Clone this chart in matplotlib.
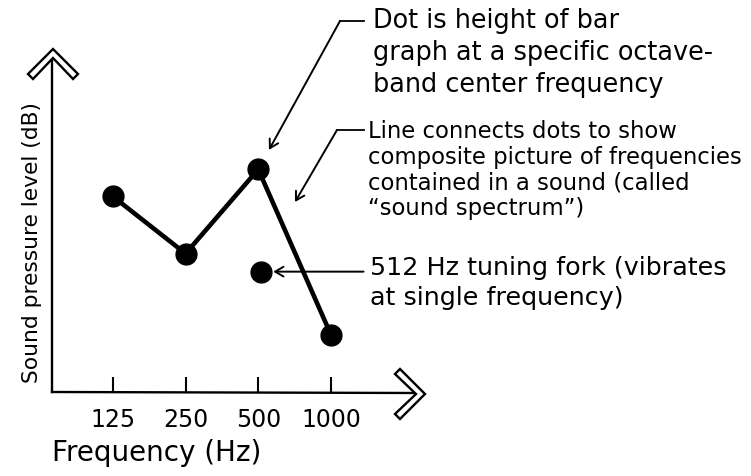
import matplotlib
matplotlib.use('Agg')
import matplotlib.pyplot as plt
from matplotlib.lines import Line2D
from matplotlib.patches import Polygon

# octave-band levels (arbitrary dB units) and the single tuning-fork tone
bands = [125, 250, 500, 1000]
band_labels = ['125', '250', '500', '1000']
levels = [65, 46, 74, 19]
fork_freq = 512
fork_level = 40

W, H = 751, 477


def px(x, y):
    # pixel position (from top-left) -> figure fraction
    return (x / W, 1 - y / H)


def chevron(tip, direction):
    # hollow double-stroke arrow head at the end of an axis
    pts = [(-25, 25), (0, 0), (25, 25), (20, 30), (0, 9), (-20, 30)]
    if direction == 'right':
        pts = [(-y, x) for x, y in pts]
    poly = Polygon([px(tip[0] + x, tip[1] + y) for x, y in pts], closed=True,
                   transform=fig.transFigure, facecolor='white',
                   edgecolor='black', lw=1.7, zorder=5)
    fig.add_artist(poly)


def seg(p0, p1, lw=1.3):
    a, b = px(*p0), px(*p1)
    fig.add_artist(Line2D([a[0], b[0]], [a[1], b[1]],
                          transform=fig.transFigure, color='black', lw=lw))


fig = plt.figure(figsize=(W / 100, H / 100), dpi=100)
ax = fig.add_axes([52 / W, (H - 393) / H, (425 - 52) / W, (393 - 50) / H])
ax.set_xscale('log', base=2)
ax.set_xlim(70, 2450)
ax.set_ylim(0, 114)
for s in ax.spines.values():
    s.set_visible(False)

ax.set_xticks(bands)
ax.set_xticklabels(band_labels)
ax.minorticks_off()
ax.tick_params(axis='x', direction='in', length=11, width=1.5, pad=11,
               labelsize=17)
ax.set_yticks([])

ax.set_xlabel('Frequency (Hz)', fontsize=20, loc='left', labelpad=5)
ax.set_ylabel('Sound pressure level (dB)', fontsize=15.7)
ax.yaxis.set_label_coords(-0.026, 0.44)

# axes drawn by hand with open arrow heads
seg((52, 393), (52, 58), lw=1.7)
seg((52, 393), (417, 394), lw=1.7)
chevron((53, 50), 'up')
chevron((425, 395), 'right')

# spectrum and tuning fork
ax.plot(bands, levels, '-o', color='black', lw=3.3, ms=15, clip_on=False,
        zorder=3)
ax.plot([fork_freq], [fork_level], 'o', color='black', ms=15, clip_on=False,
        zorder=3)

arrow = dict(arrowstyle='->,head_length=0.6,head_width=0.35', lw=1.4,
             color='black', shrinkA=0)

# note 1: dot height
ax.annotate('', xy=(bands[2], levels[2]), xycoords='data',
            xytext=px(340, 22), textcoords='figure fraction',
            arrowprops=dict(arrow, shrinkB=16))
seg((340, 22), (364, 22))
fig.text(*px(373, 8), 'Dot is height of bar\ngraph at a specific octave-\n'
         'band center frequency', ha='left', va='top', fontsize=18.4,
         linespacing=1.3)

# note 2: connecting line
ax.annotate('', xy=px(295, 203), xycoords='figure fraction',
            xytext=px(337, 131), textcoords='figure fraction',
            arrowprops=dict(arrow, shrinkB=0))
seg((337, 131), (364, 131))
fig.text(*px(368, 120), 'Line connects dots to show\ncomposite picture of '
         'frequencies\ncontained in a sound (called\n\u201csound spectrum\u201d)',
         ha='left', va='top', fontsize=16.4, linespacing=1.14)

# note 3: tuning fork
ax.annotate('', xy=(fork_freq, fork_level), xycoords='data',
            xytext=(74, 0), textcoords='offset points',
            arrowprops=dict(arrow, shrinkB=9))
fig.text(*px(370, 256), '512 Hz tuning fork (vibrates\nat single frequency)',
         ha='left', va='top', fontsize=18.3, linespacing=1.3)

fig.savefig('out.png', dpi=100)
